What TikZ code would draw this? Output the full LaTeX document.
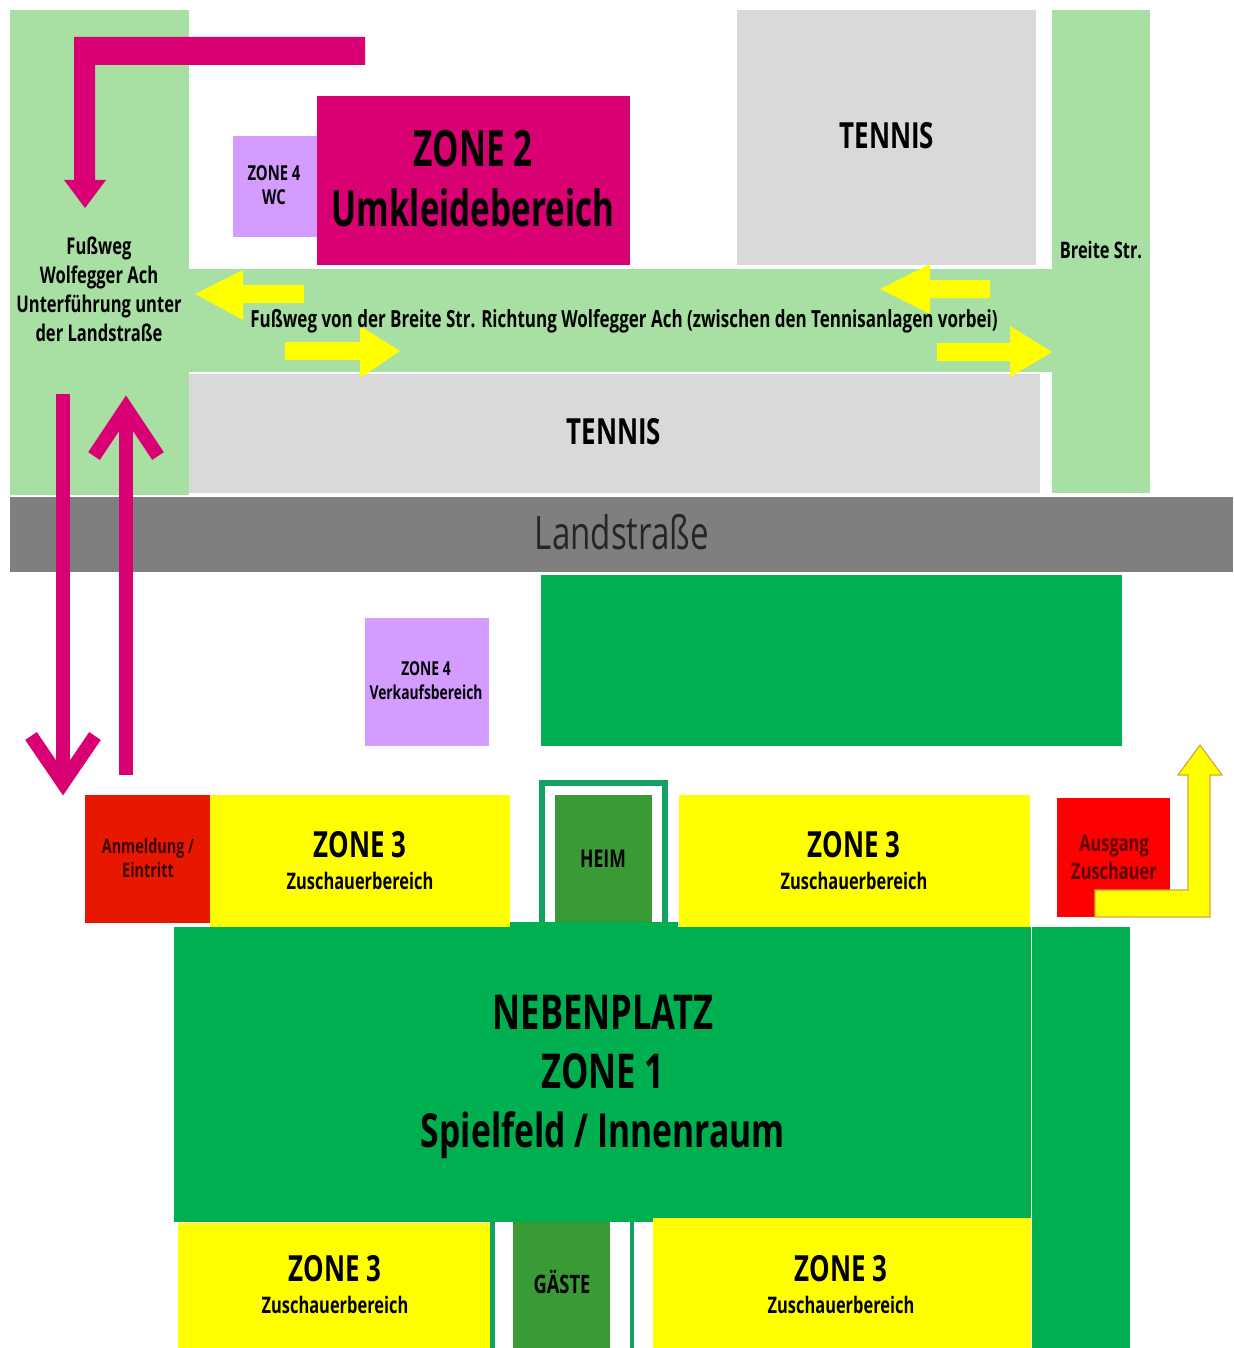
\documentclass[tikz,border=0pt]{standalone}
\usepackage{fontspec}
\setmainfont{Open Sans}[FakeStretch=0.72]
\newfontfamily\lightfont{Open Sans}[FakeStretch=0.72]
\newfontfamily\narrowfont{Open Sans}[FakeStretch=0.665]
\definecolor{path}{HTML}{A8E0A4}
\definecolor{court}{HTML}{D9D9D9}
\definecolor{road}{HTML}{7F7F7F}
\definecolor{magent}{HTML}{D80073}
\definecolor{lilac}{HTML}{D59CFF}
\definecolor{pitch}{HTML}{00B050}
\definecolor{bench}{HTML}{399A36}
\definecolor{frame}{HTML}{12A163}
\definecolor{regred}{HTML}{E81800}
\definecolor{exitred}{HTML}{FF0000}
\definecolor{stand}{HTML}{FFFF00}
\definecolor{exitedge}{HTML}{D6A83A}
\newcommand{\standtext}{\fontsize{18}{20}\selectfont ZONE 3\\[4pt]\fontsize{11.4}{13}\selectfont Zuschauerbereich}
\tikzset{
  x=0.5pt,y=-0.5pt,
  area/.style={fill=#1,draw=none},
  label/.style={inner sep=0pt,align=center,text=black,font=\bfseries},
  mid label/.style={label,font=\bfseries\fontsize{18}{20}\selectfont},
  small label/.style={label,font=\bfseries\fontsize{11.4}{12}\selectfont},
  tiny label/.style={label,font=\bfseries\fontsize{10}{12}\selectfont},
  walk/.style={draw=magent,line width=7pt,line cap=butt,miter limit=10},
}
\begin{document}
\begin{tikzpicture}
\useasboundingbox (0,0) rectangle (1233,1348);
% upper site
\fill[area=path] (10,10) rectangle (189,495);
\fill[area=path] (1052,10) rectangle (1150,493);
\fill[area=path] (189,269) rectangle (1052,372);
\fill[area=court] (737,10) rectangle (1036,265);
\fill[area=court] (189,374) rectangle (1040,493);
\fill[area=magent] (317,96) rectangle (630,265);
\fill[area=lilac] (233,136) rectangle (317,237);
\fill[area=road] (10,497) rectangle (1233,572);
% magenta L arrow
\fill[magent] (365,37) -- (74,37) -- (74,180) -- (64,180) -- (85,208) -- (106,180) -- (95,180) -- (95,65) -- (365,65) -- cycle;
% yellow arrows on the path
\fill[stand] (195,294) -- (243,270) -- (243,285) -- (304,285) -- (304,303) -- (243,303) -- (243,320) -- cycle;
\fill[stand] (880,289) -- (930,264) -- (930,280) -- (990,280) -- (990,298) -- (930,298) -- (930,314) -- cycle;
\fill[stand] (400,351) -- (360,326) -- (360,342) -- (285,342) -- (285,360) -- (360,360) -- (360,378) -- cycle;
\fill[stand] (1052,352) -- (1010,326) -- (1010,343) -- (937,343) -- (937,361) -- (1010,361) -- (1010,377) -- cycle;
% lower site
\fill[area=pitch] (541,575) rectangle (1122,746);
\fill[area=lilac] (365,618) rectangle (489,746);
\fill[area=regred] (85,795) rectangle (210,923);
\fill[area=stand] (210,795) rectangle (510,927);
\fill[area=stand] (679,795) rectangle (1030,927);
\fill[area=exitred] (1057,798) rectangle (1170,917);
\fill[area=pitch] (174,927) rectangle (1031,1222);
\fill[area=pitch] (1032,927) rectangle (1130,1348);
\fill[area=pitch] (510,922) rectangle (678,927);
\draw[frame,line width=3pt] (542,922) -- (542,783) -- (665,783) -- (665,922);
\fill[area=bench] (555,795) rectangle (652,922);
\fill[area=stand] (178,1223) rectangle (490,1348);
\fill[area=stand] (653,1218) rectangle (1031,1348);
\fill[area=pitch] (490,1218) rectangle (653,1222);
\fill[area=frame] (490,1222) rectangle (495,1348);
\fill[area=frame] (630,1222) rectangle (634,1348);
\fill[area=bench] (513,1222) rectangle (610,1348);
% exit arrow
\draw[exitedge,fill=stand,line width=0.6pt] (1095,917) -- (1210,917) -- (1210,775) -- (1222,775) -- (1200,745) -- (1178,775) -- (1188,775) -- (1188,890) -- (1095,890) -- cycle;
% magenta crossing arrows
\coordinate (downstart) at (63,394);
\coordinate (downend) at (63,783);
\coordinate (upstart) at (126,775);
\coordinate (upend) at (126,408);
\draw[walk] (downstart) -- (downend);
\draw[walk] (31,736) -- (downend) -- (95,736);
\draw[walk] (upstart) -- (upend);
\draw[walk] (94,456) -- (upend) -- (158,456);
% labels
\node[label,font=\narrowfont\bfseries\fontsize{25}{29}\selectfont] (zonetwo) at (473,179) {ZONE 2\\[1pt]Umkleidebereich};
\node[tiny label,font=\bfseries\fontsize{10.3}{12}\selectfont] (wc) at (274,185) {ZONE 4\\WC};
\node[mid label] (tennisa) at (887,136) {TENNIS};
\node[mid label] (tennisb) at (614,432) {TENNIS};
\node[small label] (breite) at (1101,250) {Breite Str.};
\node[label,font=\bfseries\fontsize{11.5}{14.5}\selectfont] (footleft) at (99,289) {Fußweg\\Wolfegger Ach\\Unterführung unter\\der Landstraße};
\node[label,font=\bfseries\fontsize{11.8}{13}\selectfont] (foot) at (624,321) {Fußweg von der Breite Str. Richtung Wolfegger Ach (zwischen den Tennisanlagen vorbei)};
\node[label,text=black!85,font=\lightfont\fontsize{23}{26}\selectfont] (land) at (622,532) {Landstraße};
\node[tiny label,font=\bfseries\fontsize{9.6}{12}\selectfont] (sales) at (426,681) {ZONE 4\\Verkaufsbereich};
\node[tiny label,text=black!75!regred] (reg) at (148,858) {Anmeldung /\\Eintritt};
\node[label,font=\bfseries\fontsize{11.4}{14}\selectfont,text=black!65!exitred] (exit) at (1114,857) {Ausgang\\Zuschauer};
\node[label,font=\bfseries\fontsize{12.2}{14}\selectfont] (heim) at (603,859) {HEIM};
\node[label,font=\bfseries\fontsize{12.7}{14}\selectfont] (gaeste) at (562,1282) {GÄSTE};
\node[label] (za) at (360,861) {\standtext};
\node[label] (zb) at (854,861) {\standtext};
\node[label] (zc) at (335,1285) {\standtext};
\node[label] (zd) at (841,1285) {\standtext};
\node[label,font=\bfseries\fontsize{24}{29.5}\selectfont] (main) at (603,1077) {NEBENPLATZ\\ZONE 1\\{\fontsize{23.4}{29.5}\selectfont Spielfeld / Innenraum}};
\end{tikzpicture}
\end{document}
